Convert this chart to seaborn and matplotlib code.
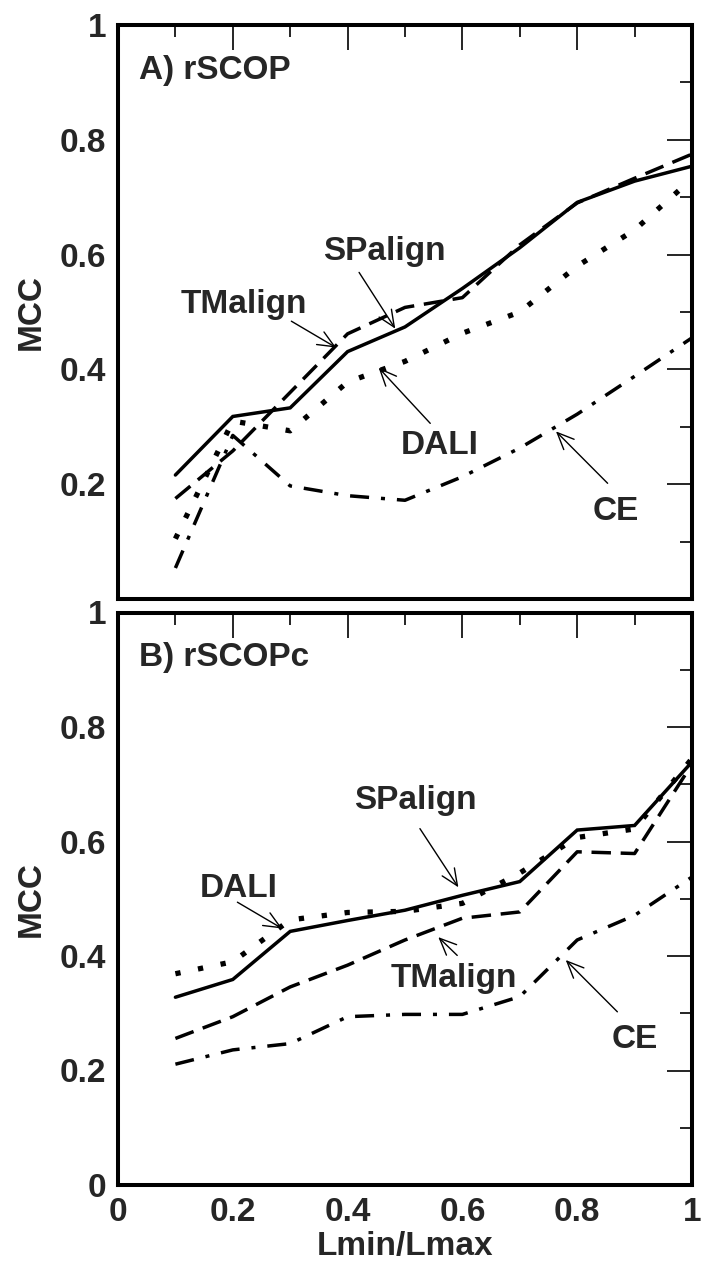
import numpy as np
import pandas as pd
import matplotlib
matplotlib.use("Agg")
import matplotlib.pyplot as plt
import seaborn as sns

# ---------------- data ----------------
x_vals = [0.1, 0.2, 0.3, 0.4, 0.5, 0.6, 0.7, 0.8, 0.9, 1.0]

a_spalign = [0.216, 0.318, 0.333, 0.431, 0.474, 0.541, 0.612, 0.691, 0.728, 0.754]
a_tmalign = [0.175, 0.258, 0.360, 0.462, 0.508, 0.525, 0.617, 0.690, 0.733, 0.775]
a_dali = [0.105, 0.310, 0.293, 0.378, 0.414, 0.463, 0.500, 0.580, 0.643, 0.732]
a_ce = [0.054, 0.285, 0.197, 0.180, 0.172, 0.213, 0.263, 0.322, 0.388, 0.455]

b_spalign = [0.328, 0.359, 0.443, 0.462, 0.480, 0.506, 0.530, 0.620, 0.628, 0.739]
b_tmalign = [0.256, 0.294, 0.346, 0.384, 0.428, 0.466, 0.477, 0.582, 0.579, 0.735]
b_dali = [0.369, 0.390, 0.463, 0.476, 0.478, 0.492, 0.545, 0.607, 0.622, 0.745]
b_ce = [0.211, 0.236, 0.247, 0.294, 0.298, 0.298, 0.329, 0.428, 0.471, 0.538]

methods = ["SPalign", "TMalign", "DALI", "CE"]
panel_titles = ["A) rSCOP", "B) rSCOPc"]
y_ticks = [0, 0.2, 0.4, 0.6, 0.8, 1.0]
y_ticklabels = ["0", "0.2", "0.4", "0.6", "0.8", "1"]
x_ticks = [0, 0.2, 0.4, 0.6, 0.8, 1.0]
x_ticklabels = ["0", "0.2", "0.4", "0.6", "0.8", "1"]

# ---------------- style ----------------
sns.set_style("white")
plt.rcParams["font.family"] = ["Liberation Sans", "DejaVu Sans"]
plt.rcParams["font.weight"] = "bold"
plt.rcParams["lines.scale_dashes"] = False
FS = 24

line_styles = {
    "SPalign": dict(linestyle="-", lw=2.5),
    "TMalign": dict(linestyle=(0, (14, 7)), lw=2.5),
    "DALI": dict(linestyle=(0, (3.8, 12.8)), lw=3.8),
    "CE": dict(linestyle=(0, (13.7, 8.6, 2.9, 8.6)), lw=2.5),
}

W, H = 705, 1271
fig = plt.figure(figsize=(W / 100, H / 100), dpi=100)
axA = fig.add_axes([118 / W, 1 - 599 / H, 574 / W, 574 / H])
axB = fig.add_axes([118 / W, 1 - 1185 / H, 574 / W, 572.5 / H])

panels = [
    (axA, {"SPalign": a_spalign, "TMalign": a_tmalign, "DALI": a_dali, "CE": a_ce}),
    (axB, {"SPalign": b_spalign, "TMalign": b_tmalign, "DALI": b_dali, "CE": b_ce}),
]

for i, (ax, series) in enumerate(panels):
    for m in methods:
        df = pd.DataFrame({"x": x_vals, "y": series[m]})
        sns.lineplot(data=df, x="x", y="y", ax=ax, color="black",
                     errorbar=None, dash_capstyle="butt",
                     solid_joinstyle="miter", **line_styles[m])
    ax.set_xlim(0, 1)
    ax.set_ylim(0, 1)
    ax.set_yticks(y_ticks)
    if i == 0:
        ax.set_yticklabels([""] + y_ticklabels[1:])
        ax.set_xticks(x_ticks)
        ax.set_xticklabels([])
        ax.set_xlabel("")
    else:
        ax.set_yticklabels(y_ticklabels)
        ax.set_xticks(x_ticks)
        ax.set_xticklabels(x_ticklabels)
        ax.set_xlabel("Lmin/Lmax", fontsize=FS, fontweight="bold")
        ax.xaxis.set_label_coords(0.5, -0.080)
    ax.set_xticks(np.arange(0.1, 1.0, 0.2), minor=True)
    ax.set_yticks(np.arange(0.1, 1.0, 0.2), minor=True)
    ax.tick_params(which="both", direction="in", top=True, right=True,
                   width=1.2, labelsize=FS, pad=8.3, color="black")
    ax.tick_params(which="major", length=18)
    ax.tick_params(which="minor", length=8.6)
    ax.set_ylabel("MCC", fontsize=FS, fontweight="bold")
    ax.yaxis.set_label_coords(-0.124, 0.5)
    for sp in ax.spines.values():
        sp.set_linewidth(2.9)
        sp.set_color("black")
        sp.set_visible(True)
    ax.text(0.037, 0.906, panel_titles[i], fontsize=FS, fontweight="bold",
            ha="left", va="baseline", transform=ax.transAxes)

arrow_kw = dict(arrowstyle="->,head_length=0.8,head_width=0.35",
                lw=1.0, color="black", mutation_scale=15,
                shrinkA=0, shrinkB=0)

annotsA = [
    ("SPalign", (0.464, 0.590), (0.42, 0.569), (0.483, 0.471)),
    ("TMalign", (0.220, 0.499), (0.302, 0.484), (0.380, 0.438)),
    ("DALI", (0.560, 0.252), (0.544, 0.306), (0.454, 0.403)),
    ("CE", (0.868, 0.1375), (0.853, 0.2016), (0.763, 0.292)),
]
annotsB = [
    ("SPalign", (0.518, 0.657), (0.526, 0.6225), (0.593, 0.520)),
    ("DALI", (0.210, 0.503), (0.208, 0.494), (0.286, 0.448)),
    ("TMalign", (0.585, 0.346), (0.591, 0.401), (0.558, 0.433)),
    ("CE", (0.900, 0.240), (0.870, 0.3025), (0.780, 0.393)),
]
for ax, annots in [(axA, annotsA), (axB, annotsB)]:
    for label, tpos, tail, tip in annots:
        ax.text(tpos[0], tpos[1], label, fontsize=FS, fontweight="bold",
                ha="center", va="baseline")
        ax.annotate("", xy=tip, xytext=tail, arrowprops=arrow_kw)

fig.savefig("out.png", dpi=100)
